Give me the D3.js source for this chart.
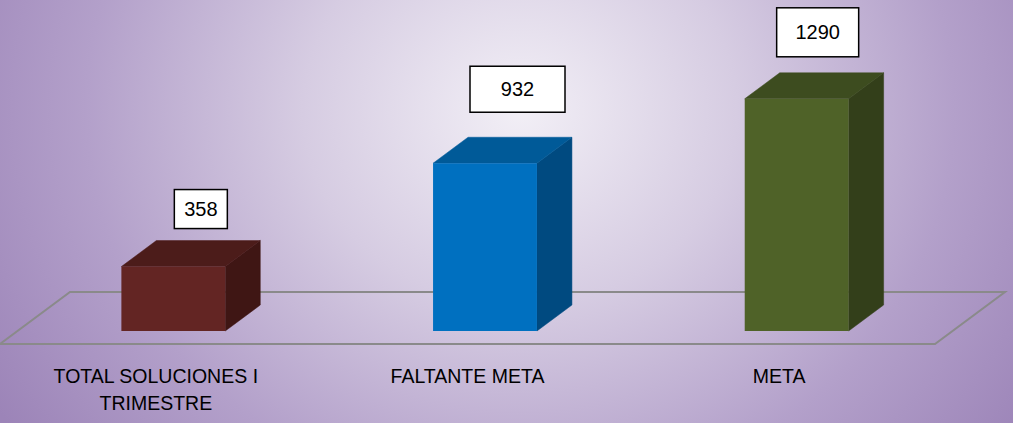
<!DOCTYPE html>
<html><head><meta charset="utf-8">
<script src="https://cdn.jsdelivr.net/npm/d3@7"></script>
<style>html,body{margin:0;padding:0;overflow:hidden;background:#fff}</style>
</head><body>
<svg id="c" width="1013" height="423"></svg>
<script>
// ---- data ----
const categories = ["TOTAL SOLUCIONES I TRIMESTRE", "FALTANTE META", "META"];
const categoryLines = [["TOTAL SOLUCIONES I", "TRIMESTRE"], ["FALTANTE META"], ["META"]];
const values = [358, 932, 1290];
// ---- styles / layout ----
const fronts = ["#632523", "#0070C0", "#4F6228"];
const tops   = ["#4C1C1A", "#005A98", "#3D4C1F"];
const sides  = ["#3F1614", "#004A80", "#333F1A"];
const boxLayout = [ {dx:10, gap:12, w:53, h:39}, {dx:15, gap:25, w:95, h:46}, {dx:3.5, gap:16, w:82, h:49} ];

const W = 1013, H = 423;
const svg = d3.select("#c");
const defs = svg.append("defs");
const rg = defs.append("radialGradient").attr("id","bg")
  .attr("gradientUnits","userSpaceOnUse").attr("cx",520).attr("cy",110).attr("r",620)
  .attr("gradientTransform","translate(520,110) scale(1,0.9) translate(-520,-110)");
rg.append("stop").attr("offset","0").attr("stop-color","#F2EFF6");
rg.append("stop").attr("offset","0.35").attr("stop-color","#D6CCE2");
rg.append("stop").attr("offset","0.7").attr("stop-color","#B3A0CA");
rg.append("stop").attr("offset","1").attr("stop-color","#9C84B8");
svg.append("rect").attr("width",W).attr("height",H).attr("fill","url(#bg)");

// floor geometry
const floorFrontY = 344, floorX0 = 0, floorX1 = 935;
const depth = {dx:70, dy:-52};
const x = d3.scaleBand().domain(categories).range([floorX0, floorX1]).paddingInner(0).paddingOuter(0);
const y = d3.scaleLinear().domain([0, 1400]).range([0, 252]);

// floor
const floorPts = [[floorX0, floorFrontY],[floorX1, floorFrontY],[floorX1+depth.dx, floorFrontY+depth.dy],[floorX0+depth.dx, floorFrontY+depth.dy]];
svg.append("path").attr("d", d3.line()(floorPts)+"Z").attr("fill","none").attr("stroke","#8a8a8a").attr("stroke-width",2);

const barW = x.bandwidth()/3;
const f0 = 0.25, f1 = 0.75;
const g = svg.append("g");
categories.forEach((c,i)=>{
  const cx = x(c) + x.bandwidth()/2;
  const fx = cx + depth.dx*f0 - barW/2;
  const fy = floorFrontY + depth.dy*f0;
  const h = y(values[i]);
  const ddx = depth.dx*(f1-f0), ddy = depth.dy*(f1-f0);
  const L = fx, R = fx+barW, T = fy-h, B = fy;
  // side
  g.append("path").attr("d", d3.line()([[R,T],[R+ddx,T+ddy],[R+ddx,B+ddy],[R,B]])+"Z").attr("fill",sides[i]).attr("stroke",sides[i]).attr("stroke-width",0.5);
  // top
  g.append("path").attr("d", d3.line()([[L,T],[L+ddx,T+ddy],[R+ddx,T+ddy],[R,T]])+"Z").attr("fill",tops[i]).attr("stroke",tops[i]).attr("stroke-width",0.5);
  // front
  g.append("rect").attr("x",L).attr("y",T).attr("width",barW).attr("height",h).attr("fill",fronts[i]);

  // value label box
  const bl = boxLayout[i];
  const bcx = (L + R + ddx)/2 + bl.dx;
  const bb = T + ddy - bl.gap;
  g.append("rect").attr("x",bcx-bl.w/2).attr("y",bb-bl.h).attr("width",bl.w).attr("height",bl.h)
    .attr("fill","#fff").attr("stroke","#000").attr("stroke-width",1.5);
  g.append("text").attr("x",bcx).attr("y",bb-bl.h/2).attr("dy","0.35em").attr("text-anchor","middle")
    .attr("font-family","Liberation Sans, Arial, sans-serif").attr("font-size",20).attr("fill","#000").text(values[i]);

  // category label
  const t = g.append("text").attr("text-anchor","middle").attr("font-family","Liberation Sans, Arial, sans-serif")
    .attr("font-size",19.5).attr("fill","#000");
  categoryLines[i].forEach((ln,j)=>{
    t.append("tspan").attr("x",cx).attr("y",383 + j*27).text(ln);
  });
});
</script>
</body></html>
